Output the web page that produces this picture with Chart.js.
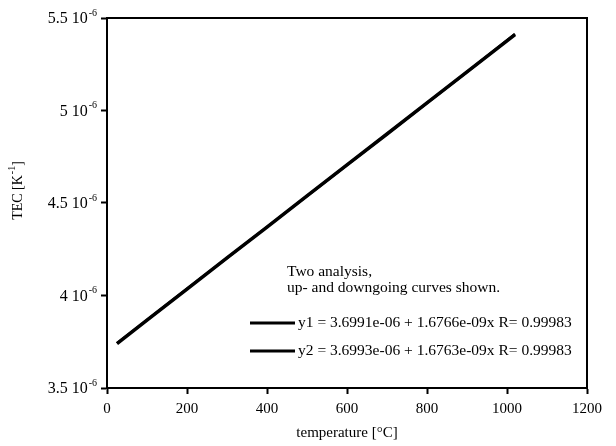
<!DOCTYPE html>
<html><head><meta charset="utf-8">
<script src="https://cdn.jsdelivr.net/npm/chart.js@4"></script>
<style>html,body{margin:0;padding:0;background:#fff}#wrap{width:616px;height:446px}</style>
</head><body><div id="wrap"><canvas id="c" width="616" height="446"></canvas></div>
<script>
const temperatures = [25, 100, 200, 300, 400, 500, 600, 700, 800, 900, 1020];
const tecRun1 = [3.740, 3.867, 4.035, 4.203, 4.370, 4.538, 4.706, 4.873, 5.041, 5.209, 5.410];
const tecRun2 = [3.742, 3.868, 4.036, 4.203, 4.371, 4.538, 4.705, 4.873, 5.040, 5.208, 5.414];
const xTicks = [0, 200, 400, 600, 800, 1000, 1200];
const yTickLabels = [["3.5 10", "-6"], ["4 10", "-6"], ["4.5 10", "-6"], ["5 10", "-6"], ["5.5 10", "-6"]];
const legendNotes = ["Two analysis,", "up- and downgoing curves shown."];
const legendLabels = ["y1 = 3.6991e-06 + 1.6766e-09x R= 0.99983", "y2 = 3.6993e-06 + 1.6763e-09x R= 0.99983"];

const FONT = '"Liberation Serif", "Times New Roman", serif';
const toPts = (xs, ys) => xs.map((x, i) => ({x: x, y: ys[i] * 1e-6}));

const customDraw = {
  id: 'customDraw',
  afterDraw(chart) {
    const ctx = chart.ctx, a = chart.chartArea;
    const ys = chart.scales.y;
    ctx.save();
    ctx.strokeStyle = '#000'; ctx.lineWidth = 2;
    ctx.strokeRect(a.left, a.top, a.right - a.left, a.bottom - a.top);
    ctx.fillStyle = '#000';
    ctx.textBaseline = 'middle';
    yTickLabels.forEach((lab, i) => {
      const v = (3.5 + i * 0.5) * 1e-6;
      const py = ys.getPixelForValue(v);
      ctx.font = '10px ' + FONT;
      const supW = ctx.measureText(lab[1]).width;
      ctx.font = '16px ' + FONT;
      const mainW = ctx.measureText(lab[0]).width;
      const xEnd = a.left - 11;
      const x0 = xEnd - supW - mainW;
      ctx.textAlign = 'left';
      ctx.fillText(lab[0], x0, py + 1);
      ctx.font = '10px ' + FONT;
      ctx.fillText(lab[1], x0 + mainW + 1, py - 5);
    });
    ctx.save();
    ctx.translate(18, 191);
    ctx.rotate(-Math.PI / 2);
    const t1 = 'TEC [K', t2 = '-1', t3 = ']';
    ctx.font = '14px ' + FONT; const w1 = ctx.measureText(t1).width, w3 = ctx.measureText(t3).width;
    ctx.font = '10px ' + FONT; const w2 = ctx.measureText(t2).width;
    let sx = -(w1 + w2 + w3) / 2;
    ctx.textAlign = 'left'; ctx.textBaseline = 'middle';
    ctx.font = '14px ' + FONT; ctx.fillText(t1, sx, 0);
    ctx.font = '10px ' + FONT; ctx.fillText(t2, sx + w1 + 1, -6);
    ctx.font = '14px ' + FONT; ctx.fillText(t3, sx + w1 + w2 + 1, 0);
    ctx.restore();
    const lx = a.left + 0.375 * (a.right - a.left);
    ctx.font = '15.5px ' + FONT; ctx.textAlign = 'left'; ctx.textBaseline = 'middle';
    ctx.fillText(legendNotes[0], lx, 272);
    ctx.fillText(legendNotes[1], lx, 288);
    const rows = [323, 351];
    chart.data.datasets.forEach((ds, i) => {
      ctx.strokeStyle = ds.borderColor; ctx.lineWidth = 3;
      ctx.beginPath(); ctx.moveTo(a.left + 143, rows[i]); ctx.lineTo(a.left + 188, rows[i]); ctx.stroke();
      ctx.fillText(legendLabels[i], a.left + 191, rows[i]);
    });
    ctx.restore();
  }
};

new Chart(document.getElementById('c'), {
  type: 'line',
  data: {
    datasets: [
      {label: 'y1', data: toPts(temperatures, tecRun1), borderColor: '#000', borderWidth: 3.5, pointRadius: 0, tension: 0},
      {label: 'y2', data: toPts(temperatures, tecRun2), borderColor: '#000', borderWidth: 2.5, pointRadius: 0, tension: 0}
    ]
  },
  options: {
    responsive: false, animation: false,
    layout: {padding: {left: 0, right: 29, top: 18, bottom: 0}},
    plugins: {legend: {display: false}, tooltip: {enabled: false}},
    scales: {
      x: {
        type: 'linear', min: 0, max: 1200,
        afterBuildTicks: s => { s.ticks = xTicks.map(v => ({value: v})); },
        afterFit: s => { s.height = 58; },
        grid: {drawOnChartArea: false, tickLength: 6, tickWidth: 2, tickColor: '#000'},
        border: {color: '#000', width: 2},
        ticks: {color: '#000', font: {family: FONT, size: 15}, padding: 6, maxRotation: 0, callback: v => String(v)},
        title: {display: true, text: 'temperature [°C]', color: '#000', font: {family: FONT, size: 15}, padding: {top: 4}}
      },
      y: {
        type: 'linear', min: 3.5e-6, max: 5.5e-6,
        afterBuildTicks: s => { s.ticks = [3.5e-6, 4e-6, 4.5e-6, 5e-6, 5.5e-6].map(v => ({value: v})); },
        afterFit: s => { s.width = 107; },
        grid: {drawOnChartArea: false, tickLength: 6, tickWidth: 2, tickColor: '#000'},
        border: {color: '#000', width: 2},
        ticks: {display: false}
      }
    }
  },
  plugins: [customDraw]
});
</script></body></html>
